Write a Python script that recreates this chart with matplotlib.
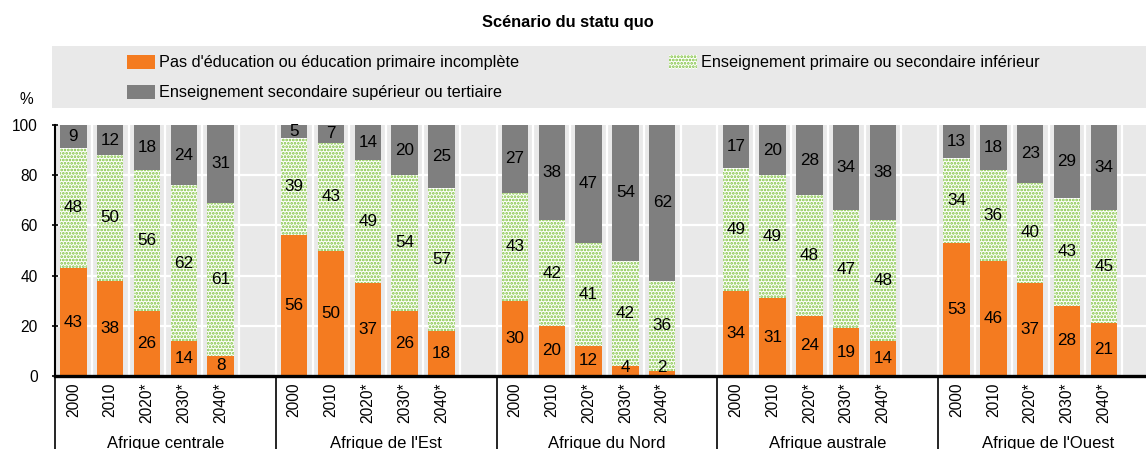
import numpy as np
import matplotlib
matplotlib.use('Agg')
import matplotlib.pyplot as plt
import matplotlib.transforms as mtransforms
from matplotlib.patches import Rectangle

plt.rcParams['font.family'] = ['Liberation Sans', 'DejaVu Sans']
plt.rcParams['hatch.linewidth'] = 1.3

# data
regions = ['Afrique centrale', "Afrique de l'Est", 'Afrique du Nord',
           'Afrique australe', "Afrique de l'Ouest"]
years = ['2000', '2010', '2020*', '2030*', '2040*']
series_names = ["Pas d'éducation ou éducation primaire incomplète",
                'Enseignement primaire ou secondaire inférieur',
                'Enseignement secondaire supérieur ou tertiaire']

no_educ = [43, 38, 26, 14, 8,
           56, 50, 37, 26, 18,
           30, 20, 12, 4, 2,
           34, 31, 24, 19, 14,
           53, 46, 37, 28, 21]
primary = [48, 50, 56, 62, 61,
           39, 43, 49, 54, 57,
           43, 42, 41, 42, 36,
           49, 49, 48, 47, 48,
           34, 36, 40, 43, 45]
upper = [9, 12, 18, 24, 31,
         5, 7, 14, 20, 25,
         27, 38, 47, 54, 62,
         17, 20, 28, 34, 38,
         13, 18, 23, 29, 34]

ORANGE = '#F47B20'
GREEN = '#7CC13A'
GREY = '#7F7F7F'
BG = '#E9E9E9'
HATCH = '.....'

# bar slots: 5 bars + 1 empty slot per region
pos = np.array([g * 6 + k for g in range(len(regions)) for k in range(len(years))])
no_educ = np.array(no_educ)
primary = np.array(primary)
upper = np.array(upper)

W, H = 1146, 449
fig = plt.figure(figsize=(W / 100, H / 100), dpi=100)
ax = fig.add_axes([55 / W, 1 - 376 / H, (W - 55) / W, (376 - 125) / H])
ax.set_facecolor(BG)

# white grid lines
for y in [20, 40, 60, 80]:
    ax.axhline(y, color='white', lw=1.6, zorder=1)
for x in np.arange(0.5, 30, 1):
    ax.axvline(x, color='white', lw=1.6, zorder=1)

bw = 0.72
ax.bar(pos, no_educ, bw, color=ORANGE, zorder=2)
ax.bar(pos, primary, bw, bottom=no_educ, facecolor='white', edgecolor=GREEN,
       hatch=HATCH, lw=0, zorder=2)
ax.bar(pos, upper, bw, bottom=no_educ + primary, color=GREY, zorder=2)

# value labels centred in each segment
for x, a, b, c in zip(pos, no_educ, primary, upper):
    for bottom, v in [(0, a), (a, b), (a + b, c)]:
        yc = max(bottom + v / 2, 3.3)
        ax.text(x, yc, str(v), ha='center', va='center', fontsize=12.3, zorder=3)

ax.set_xlim(-0.5, -0.5 + (W - 55) / 36.8)
ax.set_ylim(0, 100)
ax.set_yticks([0, 20, 40, 60, 80, 100])
ax.tick_params(axis='y', direction='inout', length=4.5, width=1.2,
               labelsize=11.2, pad=10)
ax.set_xticks(pos)
ax.set_xticklabels(years * len(regions), rotation=90, fontsize=11.2)
ax.tick_params(axis='x', length=0, pad=5)
for s in ['top', 'right']:
    ax.spines[s].set_visible(False)
ax.spines['left'].set_linewidth(1.5)
ax.spines['bottom'].set_linewidth(2.4)
ax.spines['bottom'].set_zorder(5)

# region labels and separators below the axis
trans = mtransforms.blended_transform_factory(ax.transData, fig.transFigure)
for g, name in enumerate(regions):
    ax.text(g * 6 + 2.5, 1 - 448 / H, name, transform=trans, ha='center',
            va='baseline', fontsize=12, clip_on=False)
    ax.plot([g * 6 - 0.5] * 2, [0, 1 - 376 / H], transform=trans, color='black',
            lw=1.2, clip_on=False)

# title, unit, legend
fig.text(568 / W, 1 - 22 / H, 'Scénario du statu quo', ha='center', va='center',
         fontsize=11.8, fontweight='bold')
fig.text(26 / W, 1 - 100 / H, '%', ha='center', va='center', fontsize=11.2)

fig.patches.append(Rectangle((52 / W, 1 - 108 / H), (W - 52) / W, 62 / H,
                             transform=fig.transFigure, facecolor=BG, lw=0))
legend_items = [(127, 62, dict(facecolor=ORANGE, lw=0), series_names[0]),
                (669, 62, dict(facecolor='white', edgecolor=GREEN, hatch=HATCH, lw=0), series_names[1]),
                (127, 92, dict(facecolor=GREY, lw=0), series_names[2])]
for x0, yc, style, label in legend_items:
    fig.patches.append(Rectangle((x0 / W, 1 - (yc + 7) / H), 28 / W, 14 / H,
                                 transform=fig.transFigure, **style))
    fig.text((x0 + 32) / W, 1 - yc / H, label, ha='left', va='center', fontsize=11.7)

fig.savefig('out.png', dpi=100)
